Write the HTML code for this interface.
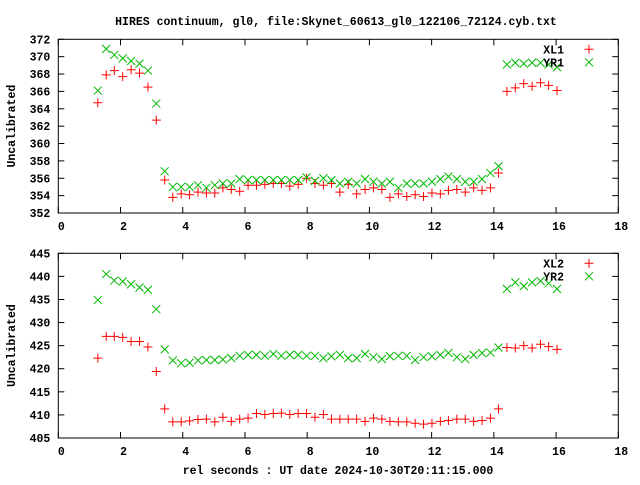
<!DOCTYPE html>
<html><head><meta charset="utf-8"><style>
body{margin:0;background:#fff}
svg text{font-family:"Liberation Mono",monospace;font-weight:bold;font-size:11.5px;fill:#000}
</style></head><body>
<svg id="chart" width="640" height="480" xmlns="http://www.w3.org/2000/svg">
<rect width="640" height="480" fill="#fff"/>
<text x="336" y="25" text-anchor="middle">HIRES continuum, gl0, file:Skynet_60613_gl0_122106_72124.cyb.txt</text>
<text x="338" y="474" text-anchor="middle">rel seconds : UT date 2024-10-30T20:11:15.000</text>
<g id="g"></g>
</svg>
<script>
const xTicks=[0,2,4,6,8,10,12,14,16,18];
const yTicks1=[352,354,356,358,360,362,364,366,368,370,372];
const yTicks2=[405,410,415,420,425,430,435,440,445];
const times=[1.27,1.54,1.80,2.07,2.34,2.61,2.88,3.15,3.42,3.68,3.95,4.22,4.49,4.76,5.03,5.29,5.56,5.83,6.10,6.37,6.64,6.91,7.17,7.44,7.71,7.98,8.25,8.52,8.78,9.05,9.32,9.59,9.86,10.13,10.40,10.66,10.93,11.20,11.47,11.74,12.01,12.28,12.54,12.81,13.08,13.35,13.62,13.89,14.15,14.42,14.69,14.96,15.23,15.50,15.76,16.03];
const xl1=[364.7,367.9,368.4,367.7,368.5,368.1,366.5,362.7,355.8,353.8,354.2,354.1,354.4,354.3,354.3,354.9,354.7,354.5,355.2,355.2,355.3,355.4,355.4,355.1,355.3,356.0,355.4,355.2,355.4,354.4,355.3,354.2,354.7,354.9,354.7,353.8,354.2,353.9,354.1,353.9,354.3,354.2,354.6,354.7,354.4,354.9,354.6,354.9,356.6,366.0,366.4,366.9,366.6,367.0,366.7,366.1];
const yr1=[366.1,370.9,370.2,369.8,369.5,369.2,368.4,364.6,356.8,355.0,355.0,355.0,355.2,354.9,355.2,355.4,355.4,355.9,355.8,355.8,355.8,355.8,355.8,355.8,355.8,356.1,355.7,356.0,355.8,355.4,355.6,355.4,355.9,355.6,355.4,355.6,354.9,355.4,355.4,355.4,355.6,355.9,356.2,355.9,355.6,355.6,355.9,356.6,357.4,369.1,369.3,369.2,369.3,369.3,369.1,368.8];
const xl2=[422.3,427.0,427.0,426.8,425.9,425.9,424.7,419.4,411.3,408.5,408.5,408.7,409.0,409.1,408.5,409.5,408.6,409.1,409.3,410.3,410.1,410.3,410.4,410.1,410.3,410.3,409.5,410.1,409.1,409.1,409.1,409.1,408.6,409.3,409.1,408.6,408.5,408.5,408.2,408.0,408.2,408.6,408.8,409.1,409.1,408.6,408.8,409.3,411.3,424.6,424.5,425.0,424.5,425.3,424.8,424.2];
const yr2=[434.9,440.5,439.1,438.9,438.3,437.6,437.1,432.9,424.2,421.8,421.2,421.3,421.8,421.9,421.9,422.0,422.3,422.8,423.0,423.0,422.8,423.2,422.8,423.0,423.0,422.8,422.8,422.3,422.7,423.0,422.3,422.3,423.2,422.5,422.1,422.7,422.8,422.8,421.9,422.5,422.7,423.0,423.4,422.5,422.1,423.0,423.4,423.5,424.6,437.3,438.7,437.9,438.7,439.0,438.5,437.3];

const NS="http://www.w3.org/2000/svg";
const g=document.getElementById('g');
function mk(tag,attrs){const e=document.createElementNS(NS,tag);for(const k in attrs)e.setAttribute(k,attrs[k]);g.appendChild(e);return e;}
const L=58.3,R=618.3,X0=0,X1=18;
function sx(v){return L+(v-X0)/(X1-X0)*(R-L);}
function panel(top,bot,ymin,ymax,yt,s1,s2,n1,n2,idx){
  const sy=v=>bot-(v-ymin)/(ymax-ymin)*(bot-top);
  const fr=mk('rect',{x:L,y:top,width:R-L,height:bot-top,fill:'none',stroke:'#000','stroke-width':1});
  
  
  yt.forEach(v=>{const y=sy(v);
    mk('line',{x1:L,y1:y,x2:L+6,y2:y,stroke:'#000'});
    mk('line',{x1:R,y1:y,x2:R-6,y2:y,stroke:'#000'});
    const t=mk('text',{x:L-8,y:y+4,'text-anchor':'end'});t.textContent=v;
    
    
  });
  xTicks.forEach(v=>{const x=sx(v);
    mk('line',{x1:x,y1:bot,x2:x,y2:bot-6,stroke:'#000'});
    mk('line',{x1:x,y1:top,x2:x,y2:top+6,stroke:'#000'});
    const t=mk('text',{x:x+3,y:bot+17,'text-anchor':'middle'});t.textContent=v;
    
    
  });
  const yl=mk('text',{x:0,y:0,'text-anchor':'middle',transform:`translate(15,${(top+bot)/2}) rotate(-90)`});
  yl.textContent='Uncalibrated';
  
  
  const plus=(x,y,c)=>mk('path',{d:`M${x-4.5},${y}h9M${x},${y-4.5}v9`,stroke:c,'stroke-width':1,fill:'none'});
  const cross=(x,y,c)=>mk('path',{d:`M${x-4},${y-4}l8,8M${x-4},${y+4}l8,-8`,stroke:c,'stroke-width':1,fill:'none'});
  times.forEach((t,i)=>{const p=plus(sx(t),sy(s1[i]),'#ff0000');
    
    });
  times.forEach((t,i)=>{const p=cross(sx(t),sy(s2[i]),'#00b800');
    
    });
  const l1=mk('text',{x:564,y:top+14,'text-anchor':'end'});l1.textContent=n1;
  
  
  plus(589,top+10,'#ff0000');
  const l2=mk('text',{x:564,y:top+27,'text-anchor':'end'});l2.textContent=n2;
  
  
  cross(589,top+23,'#00b800');
}
panel(39.3,213,352,372,yTicks1,xl1,yr1,'XL1','YR1',1);
panel(253.3,438,405,445,yTicks2,xl2,yr2,'XL2','YR2',2);
</script>
</body></html>
